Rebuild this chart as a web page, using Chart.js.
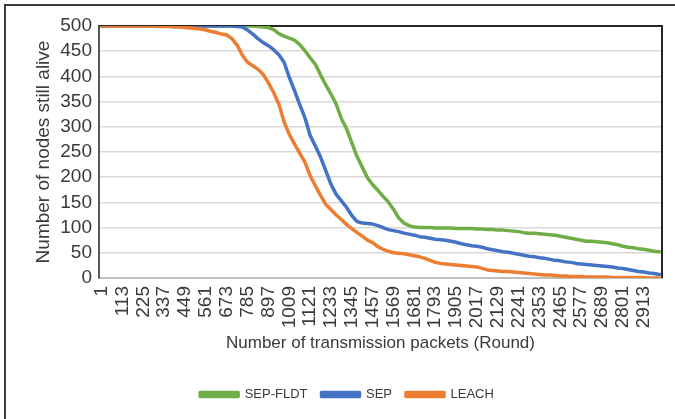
<!DOCTYPE html>
<html>
<head>
<meta charset="utf-8">
<script src="https://cdn.jsdelivr.net/npm/chart.js@4.4.0/dist/chart.umd.min.js"></script>
<style>
body{margin:0;background:#fff;overflow:hidden;}
#wrap{position:relative;width:675px;height:419px;}
#frame{position:absolute;left:4px;top:4px;width:720px;height:460px;border:2px solid #3c3c3c;pointer-events:none;}
</style>
</head>
<body>
<div id="wrap">
  <canvas id="lifetime"></canvas>
  <div id="frame"></div>
</div>
<script>
// rounds sampled every 28 rounds (1, 29, 57 ... 2997)
var rounds = [];
for (var r = 1; r <= 2997; r += 28) rounds.push(r);

// labels Excel printed under the axis
var tickLabels = ['1','113','225','337','449','561','673','785','897','1009','1121','1233','1345',
  '1457','1569','1681','1793','1905','2017','2129','2241','2353','2465','2577','2689','2801','2913'];

var sepFldt = [
  500,500,500,500,500,500,500,500,500,500,
  500,500,500,500,500,500,500,500,500,500,
  500,500,500,500,500,500,500,500,500,500,
  499,498,497,493,485,480,476,472,463,451,
  437,424,403,383,365,345,316,296,268,241,
  220,199,185,174,162,151,136,119,109,104,
  101,100,100,100,99,99,99,99,98,98,
  98,98,97,97,96,96,95,95,94,93,
  92,90,89,89,88,87,86,85,83,81,
  79,77,75,73,73,72,71,70,68,66,
  63,61,60,58,57,55,53,52
];
var sep = [
  500,500,500,500,500,500,500,500,500,500,
  500,500,500,500,500,500,500,500,500,500,
  500,500,500,500,500,500,499,498,492,484,
  475,467,461,453,443,428,398,372,344,318,
  283,262,240,213,186,166,153,140,124,112,
  109,108,107,104,100,96,94,92,89,87,
  85,82,81,79,77,76,75,73,71,68,
  66,64,63,61,58,56,54,52,51,49,
  47,45,43,42,40,39,37,35,34,32,
  31,29,28,27,26,25,24,23,22,20,
  19,17,15,13,12,10,9,7
];
var leach = [
  500,500,500,500,500,500,500,500,500,500,
  500,499,499,499,498,498,497,496,495,494,
  492,489,487,484,482,475,462,442,428,421,
  414,404,387,368,345,310,285,266,248,230,
  203,183,164,146,136,125,116,106,98,90,
  83,75,70,62,57,53,50,49,48,46,
  44,42,39,35,31,29,28,27,26,25,
  24,23,22,19,16,15,14,13,13,12,
  11,10,9,8,7,6,6,5,4,4,
  3,3,3,2,2,2,2,2,1,1,
  1,1,1,1,1,0,0,0
];

var textCol = '#3a3a3a';
var tickFont = {family:'Liberation Sans', size:19};

// black line on top and right of the plot area, legend nudged right
var plotFrame = {
  id:'plotFrame',
  afterLayout:function(chart){
    if (chart.legend) { chart.legend.left += 16; chart.legend.right += 16; }
  },
  beforeDatasetsDraw:function(chart){
    var a = chart.chartArea, c = chart.ctx;
    c.save();
    c.strokeStyle = '#262626';
    c.lineWidth = 2;
    c.beginPath();
    c.moveTo(a.left, a.top);
    c.lineTo(a.right, a.top);
    c.lineTo(a.right, a.bottom);
    c.stroke();
    c.restore();
  }
};

var ctx = document.getElementById('lifetime').getContext('2d');
new Chart(ctx,{
  type:'line',
  data:{
    labels:rounds,
    datasets:[
      {label:'SEP-FLDT',data:sepFldt,borderColor:'#70ad47',backgroundColor:'#70ad47',order:2},
      {label:'SEP',data:sep,borderColor:'#4472c4',backgroundColor:'#4472c4',order:1},
      {label:'LEACH',data:leach,borderColor:'#ed7d31',backgroundColor:'#ed7d31',order:0}
    ]
  },
  options:{
    responsive:true,
    maintainAspectRatio:false,
    animation:false,
    layout:{padding:{left:0,right:13,top:26,bottom:8}},
    elements:{
      line:{borderWidth:3.5,tension:0,borderCapStyle:'round',borderJoinStyle:'round'},
      point:{radius:0}
    },
    plugins:{
      legend:{
        position:'bottom',
        labels:{
          font:{family:'Liberation Sans',size:13},
          color:textCol,
          boxWidth:38,
          boxHeight:4,
          padding:14,
          sort:function(a,b){return a.datasetIndex-b.datasetIndex;}
        }
      },
      tooltip:{enabled:false}
    },
    scales:{
      x:{
        offset:true,
        afterFit:function(s){ s.height = 96; s.paddingLeft = 0; s.paddingRight = 0; },
        grid:{display:false,drawTicks:false},
        border:{color:'#bfbfbf',width:2},
        ticks:{
          autoSkip:false,
          maxRotation:90,
          minRotation:90,
          padding:8,
          font:tickFont,
          color:textCol,
          callback:function(v,i){
            var s = String(rounds[i]);
            return tickLabels.indexOf(s) >= 0 ? s : '';
          }
        },
        title:{display:true,text:'Number of transmission packets (Round)',font:{family:'Liberation Sans',size:17},color:textCol,padding:{top:0,bottom:20}}
      },
      y:{
        min:0,
        max:500,
        afterFit:function(s){ s.width = 99; },
        grid:{color:'#d9d9d9',lineWidth:1.5,drawTicks:false},
        border:{color:'#595959',width:2},
        ticks:{stepSize:50,autoSkip:false,padding:7,font:tickFont,color:textCol},
        title:{display:true,text:'Number of nodes still alive',font:{family:'Liberation Sans',size:19},color:textCol,padding:{top:32,bottom:0}}
      }
    }
  },
  plugins:[plotFrame]
});
</script>
</body>
</html>
